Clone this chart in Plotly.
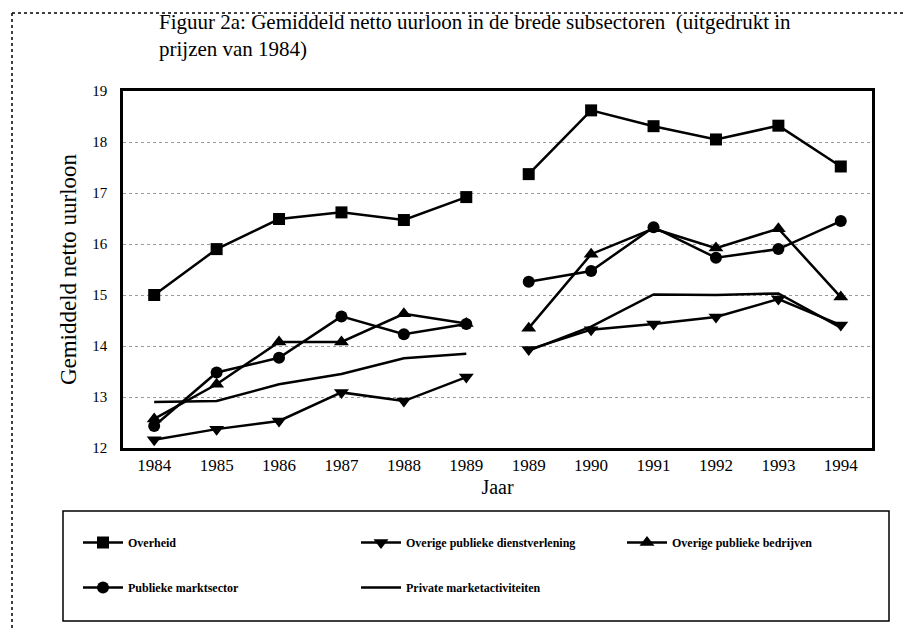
import plotly.graph_objects as go

# ---- data ----
tick_labels = ["1984", "1985", "1986", "1987", "1988", "1989",
               "1989", "1990", "1991", "1992", "1993", "1994"]

overheid = [15.0, 15.9, 16.49, 16.62, 16.47, 16.92,
            17.37, 18.62, 18.31, 18.05, 18.32, 17.52]
dienstverlening = [12.16, 12.37, 12.53, 13.09, 12.92, 13.39,
                   13.93, 14.32, 14.43, 14.57, 14.92, 14.41]
bedrijven = [12.57, 13.25, 14.08, 14.08, 14.63, 14.44,
             14.35, 15.8, 16.3, 15.92, 16.3, 14.96]
marktsector = [12.43, 13.48, 13.77, 14.58, 14.23, 14.43,
               15.26, 15.47, 16.33, 15.73, 15.9, 16.45]
private = [12.9, 12.92, 13.25, 13.45, 13.76, 13.85,
           13.91, 14.38, 15.01, 15.0, 15.03, 14.36]

series_names = ["Overheid", "Overige publieke dienstverlening",
                "Overige publieke bedrijven", "Publieke marktsector",
                "Private marketactiviteiten"]

title_text = ("Figuur 2a: Gemiddeld netto uurloon in de brede subsectoren  (uitgedrukt in"
              "<br>prijzen van 1984)")

# break between the two 1989 periods
n_first = 6
def with_gap(vals):
    xs = list(range(n_first)) + [n_first - 0.5] + list(range(n_first, len(vals)))
    ys = list(vals[:n_first]) + [None] + list(vals[n_first:])
    return xs, ys

FONT = "Liberation Serif"
fig = go.Figure()

styles = [
    (overheid, "square", 12, "legend", "g1"),
    (dienstverlening, "triangle-down", 13, "legend2", "g2"),
    (bedrijven, "triangle-up", 13, "legend3", "g3"),
    (marktsector, "circle", 12, "legend", "g4"),
    (private, None, 0, "legend2", "g5"),
]

for name, (vals, sym, sz, lg, grp) in zip(series_names, styles):
    xs, ys = with_gap(vals)
    mode = "lines+markers" if sym else "lines"
    fig.add_trace(go.Scatter(
        x=xs, y=ys, name="<b>" + name + "</b>", mode=mode,
        line=dict(color="black", width=2.5),
        marker=dict(symbol=sym or "circle", size=sz, color="black"),
        connectgaps=False, legend=lg, legendgroup=grp,
    ))

# page offset (body margin) of 8px is compensated: figure coords = page coords - 8
OFF = 8
W, H = 912 - OFF, 629 - OFF
L, T = 123 - OFF, 91 - OFF
R = W - (872 - OFF)
B = H - (448 - OFF)
pw, ph = W - L - R, H - T - B
def px(x):
    return (x - OFF - L) / pw
def py(y):
    return (H - B - (y - OFF)) / ph

legend_common = dict(
    bgcolor="rgba(0,0,0,0)", font=dict(family=FONT, size=12, color="black"),
    xanchor="left", yanchor="top", tracegroupgap=26, itemwidth=40,
)

fig.update_layout(
    width=W, height=H,
    margin=dict(l=L, r=R, t=T, b=B),
    paper_bgcolor="white", plot_bgcolor="white",
    font=dict(family=FONT, color="black"),
    showlegend=True,
    legend=dict(x=px(78), y=py(528), **legend_common),
    legend2=dict(x=px(356), y=py(528), **legend_common),
    legend3=dict(x=px(622), y=py(528), **legend_common),
    xaxis=dict(
        range=[-0.5, len(tick_labels) - 0.5],
        tickmode="array", tickvals=list(range(len(tick_labels))), ticktext=tick_labels,
        tickfont=dict(family=FONT, size=17, color="black"),
        showgrid=False, zeroline=False,
        showline=True, linecolor="black", linewidth=2.5, mirror=True,
        ticks="", title=dict(text="Jaar", font=dict(family=FONT, size=20), standoff=6),
    ),
    yaxis=dict(
        range=[12, 19], dtick=1,
        tickfont=dict(family=FONT, size=15, color="black"),
        showgrid=True, gridcolor="#9a9a9a", griddash="dot", gridwidth=1,
        zeroline=False,
        showline=True, linecolor="black", linewidth=2.5, mirror=True,
        ticks="", ticklabelstandoff=10,
        title=dict(text="Gemiddeld netto uurloon", font=dict(family=FONT, size=23), standoff=10),
    ),
    annotations=[dict(
        text=title_text, xref="paper", yref="paper",
        x=px(157), y=py(8), xanchor="left", yanchor="top", align="left",
        showarrow=False, font=dict(family=FONT, size=21, color="black"),
    )],
    shapes=[
        # legend box
        dict(type="rect", xref="paper", yref="paper",
             x0=px(63), x1=px(889), y0=py(511), y1=py(621),
             line=dict(color="black", width=1.5)),
        # outer dotted frame (top and left)
        dict(type="line", xref="paper", yref="paper",
             x0=px(12), x1=px(912), y0=py(13), y1=py(13),
             line=dict(color="black", width=1.5, dash="dot")),
        dict(type="line", xref="paper", yref="paper",
             x0=px(12), x1=px(12), y0=py(13), y1=py(629),
             line=dict(color="black", width=1.5, dash="dot")),
    ],
)

fig.write_html("out.html")
